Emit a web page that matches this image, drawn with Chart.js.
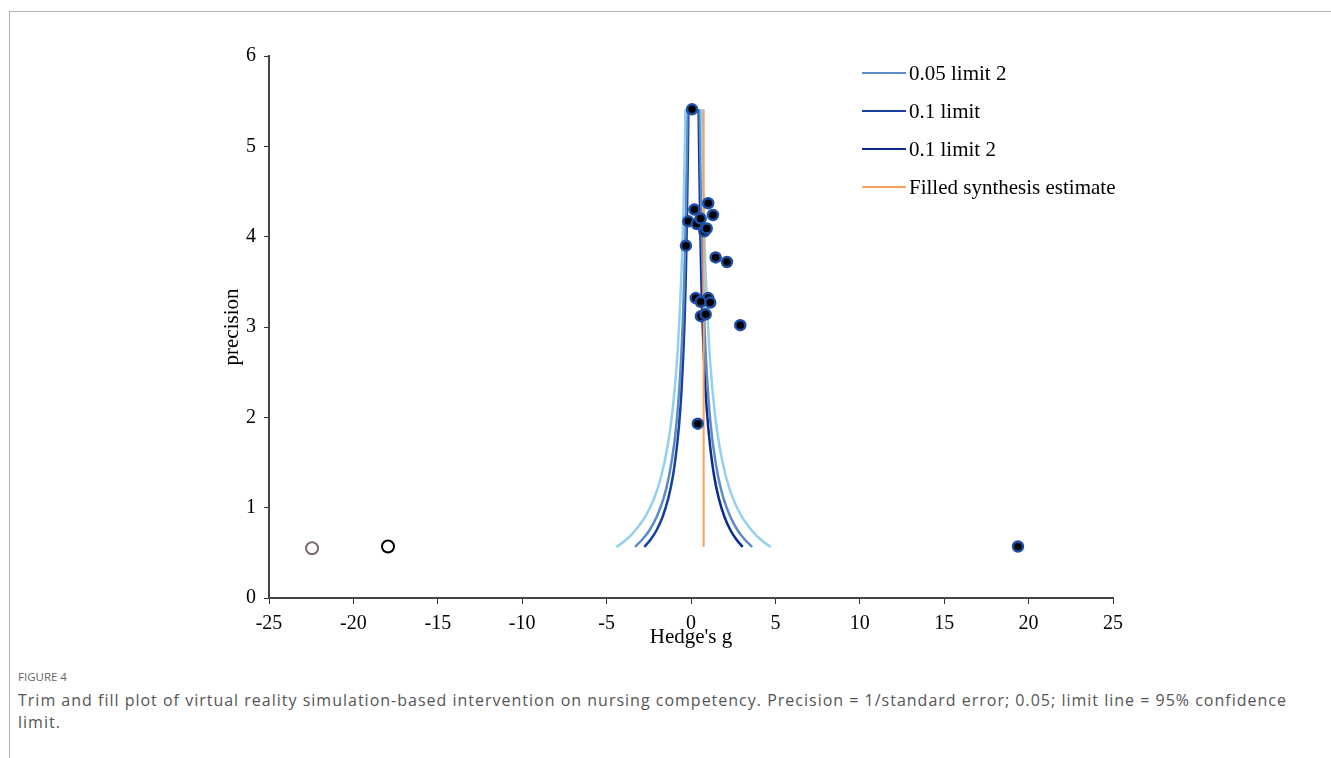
<!DOCTYPE html>
<html>
<head>
<meta charset="utf-8">
<script src="https://cdn.jsdelivr.net/npm/chart.js@4.4.1/dist/chart.umd.min.js"></script>
<style>
  body { margin: 0; background: #fff; width: 1331px; height: 758px; overflow: hidden; position: relative; }
  #frame { position: absolute; left: 9px; top: 11px; right: 0; bottom: 0; border-top: 1px solid #b5b5b5; border-left: 1px solid #b5b5b5; }
  #chartBox { position: absolute; left: 0; top: 0; width: 1331px; height: 653px; }
  #legend { position: absolute; left: 862px; top: 60px; font-family: "Liberation Serif", "Times New Roman", serif; font-size: 21px; color: #000; }
  .item { height: 38px; display: flex; align-items: center; position: relative; top: -6px; }
  .swatch { width: 44px; height: 2px; margin-right: 3px; }
  #figNum { position: absolute; left: 18px; top: 669px; font-family: "Open Sans", sans-serif; font-size: 11.5px; color: #666; }
  #caption { position: absolute; left: 18px; top: 689px; width: 1290px; font-family: "Open Sans", sans-serif; font-size: 16px; letter-spacing: 1px; line-height: 22px; color: #555; }
</style>
</head>
<body>
<div id="frame"></div>
<div id="chartBox"><canvas id="grafica"></canvas></div>
<div id="legend"></div>
<div id="figNum">FIGURE 4</div>
<div id="caption">Trim and fill plot of virtual reality simulation-based intervention on nursing competency. Precision = 1/standard error; 0.05; limit line = 95% confidence limit.</div>
<script>
// --- DATOS ---
const xTicks = [-25, -20, -15, -10, -5, 0, 5, 10, 15, 20, 25];
const yTicks = [0, 1, 2, 3, 4, 5, 6];

// estudios observados (Hedge's g, precision)
const observadoX = [0.06, 1.02, 0.20, 1.30, -0.16, 0.34, 0.57, 0.79, 0.93, -0.30, 1.46, 2.13, 0.28, 1.02, 0.57, 1.14, 0.59, 0.87, 2.92, 0.40, 19.37];
const observadoY = [5.41, 4.37, 4.30, 4.24, 4.17, 4.14, 4.20, 4.06, 4.09, 3.90, 3.77, 3.72, 3.32, 3.32, 3.28, 3.27, 3.12, 3.14, 3.02, 1.93, 0.57];

// estudios imputados (círculos abiertos)
const imputadoX = [-22.45, -17.95];
const imputadoY = [0.55, 0.57];

// curvas del embudo
const nivelesPrecision = [0.565, 0.65, 0.75, 0.9, 1.1, 1.35, 1.7, 2.1, 2.6, 3.2, 3.9, 4.6, 5.41];
const limite001Izq = [-4.41, -3.81, -3.29, -2.71, -2.19, -1.76, -1.37, -1.08, -0.84, -0.66, -0.51, -0.41, -0.33];
const limite001Der = [4.71, 4.11, 3.59, 3.01, 2.49, 2.06, 1.67, 1.38, 1.14, 0.96, 0.81, 0.71, 0.63];
const limite005Izq = [-3.32, -2.87, -2.46, -2.03, -1.63, -1.30, -1.00, -0.78, -0.60, -0.46, -0.35, -0.28, -0.21];
const limite005Der = [3.62, 3.17, 2.76, 2.33, 1.93, 1.60, 1.30, 1.08, 0.90, 0.76, 0.65, 0.58, 0.51];
const limite01Izq = [-2.76, -2.38, -2.04, -1.68, -1.35, -1.07, -0.82, -0.63, -0.48, -0.36, -0.27, -0.21, -0.15];
const limite01Der = [3.06, 2.68, 2.34, 1.98, 1.65, 1.37, 1.12, 0.93, 0.78, 0.66, 0.57, 0.51, 0.45];

// estimación combinada rellenada
const estimacionX = [0.75, 0.75];
const estimacionY = [0.565, 5.41];

const colores = {
    claro: '#93d0ee',
    medio: '#5b8cc8',
    oscuro1: '#17409e',
    oscuro2: '#0a2d8c',
    naranja: '#f8a25c'
};

function pares(xs, ys) {
    return xs.map((x, i) => ({ x: x, y: ys[i] }));
}

function curva(label, xs, color) {
    return {
        label: label,
        data: pares(xs, nivelesPrecision),
        showLine: true,
        borderColor: color,
        borderWidth: 2.5,
        pointRadius: 0,
        tension: 0.4,
        order: 2
    };
}

const fuenteSerif = '"Liberation Serif", "Times New Roman", serif';

const ctx = document.getElementById('grafica').getContext('2d');
new Chart(ctx, {
    type: 'scatter',
    data: {
        datasets: [
            {
                label: 'Observed',
                data: pares(observadoX, observadoY),
                backgroundColor: '#000',
                borderColor: '#1d4fa8',
                borderWidth: 2.5,
                pointRadius: 5,
                order: 0
            },
            {
                label: 'Imputed',
                data: pares(imputadoX, imputadoY),
                backgroundColor: '#fff',
                borderColor: ['#7a6a72', '#000'],
                borderWidth: 2,
                pointRadius: 6,
                order: 0
            },
            curva('0.01 limit', limite001Izq, colores.claro),
            curva('0.01 limit 2', limite001Der, colores.claro),
            curva('0.05 limit', limite005Izq, colores.medio),
            curva('0.05 limit 2', limite005Der, colores.medio),
            curva('0.1 limit', limite01Izq, colores.oscuro1),
            curva('0.1 limit 2', limite01Der, colores.oscuro2),
            {
                label: 'Filled synthesis estimate',
                data: pares(estimacionX, estimacionY),
                showLine: true,
                borderColor: colores.naranja,
                borderWidth: 2,
                pointRadius: 0,
                order: 1
            }
        ]
    },
    options: {
        responsive: true,
        maintainAspectRatio: false,
        animation: false,
        layout: { padding: { left: 216, right: 218, top: 56, bottom: 0 } },
        plugins: { legend: { display: false }, tooltip: { enabled: false } },
        scales: {
            x: {
                type: 'linear',
                min: -25, max: 25,
                afterFit: s => { s.height = 55; },
                afterBuildTicks: s => { s.ticks = xTicks.map(v => ({ value: v })); },
                grid: { drawOnChartArea: false, tickLength: 6, color: '#333' },
                border: { color: '#444', width: 2 },
                ticks: { color: '#000', padding: 8, font: { family: fuenteSerif, size: 20 } },
                title: { display: true, text: "Hedge's g", color: '#000', padding: { top: 0, bottom: 3 }, font: { family: fuenteSerif, size: 21 } }
            },
            y: {
                type: 'linear',
                min: 0, max: 6,
                afterFit: s => { s.width = 53; },
                afterBuildTicks: s => { s.ticks = yTicks.map(v => ({ value: v })); },
                grid: { drawOnChartArea: false, tickLength: 5, color: '#333' },
                border: { color: '#444', width: 2 },
                ticks: { color: '#000', padding: 8, font: { family: fuenteSerif, size: 20 } },
                title: { display: true, text: 'precision', color: '#000', padding: { top: 4, bottom: 4 }, font: { family: fuenteSerif, size: 21 } }
            }
        }
    }
});

// --- LEYENDA (solo las entradas visibles en el original) ---
const leyenda = [
    ['0.05 limit 2', colores.medio],
    ['0.1 limit', colores.oscuro1],
    ['0.1 limit 2', colores.oscuro2],
    ['Filled synthesis estimate', colores.naranja]
];
const cajaLeyenda = document.getElementById('legend');
leyenda.forEach(([texto, color]) => {
    const div = document.createElement('div');
    div.className = 'item';
    div.innerHTML = `<span class="swatch" style="background:${color}"></span><span>${texto}</span>`;
    cajaLeyenda.appendChild(div);
});
</script>
</body>
</html>
